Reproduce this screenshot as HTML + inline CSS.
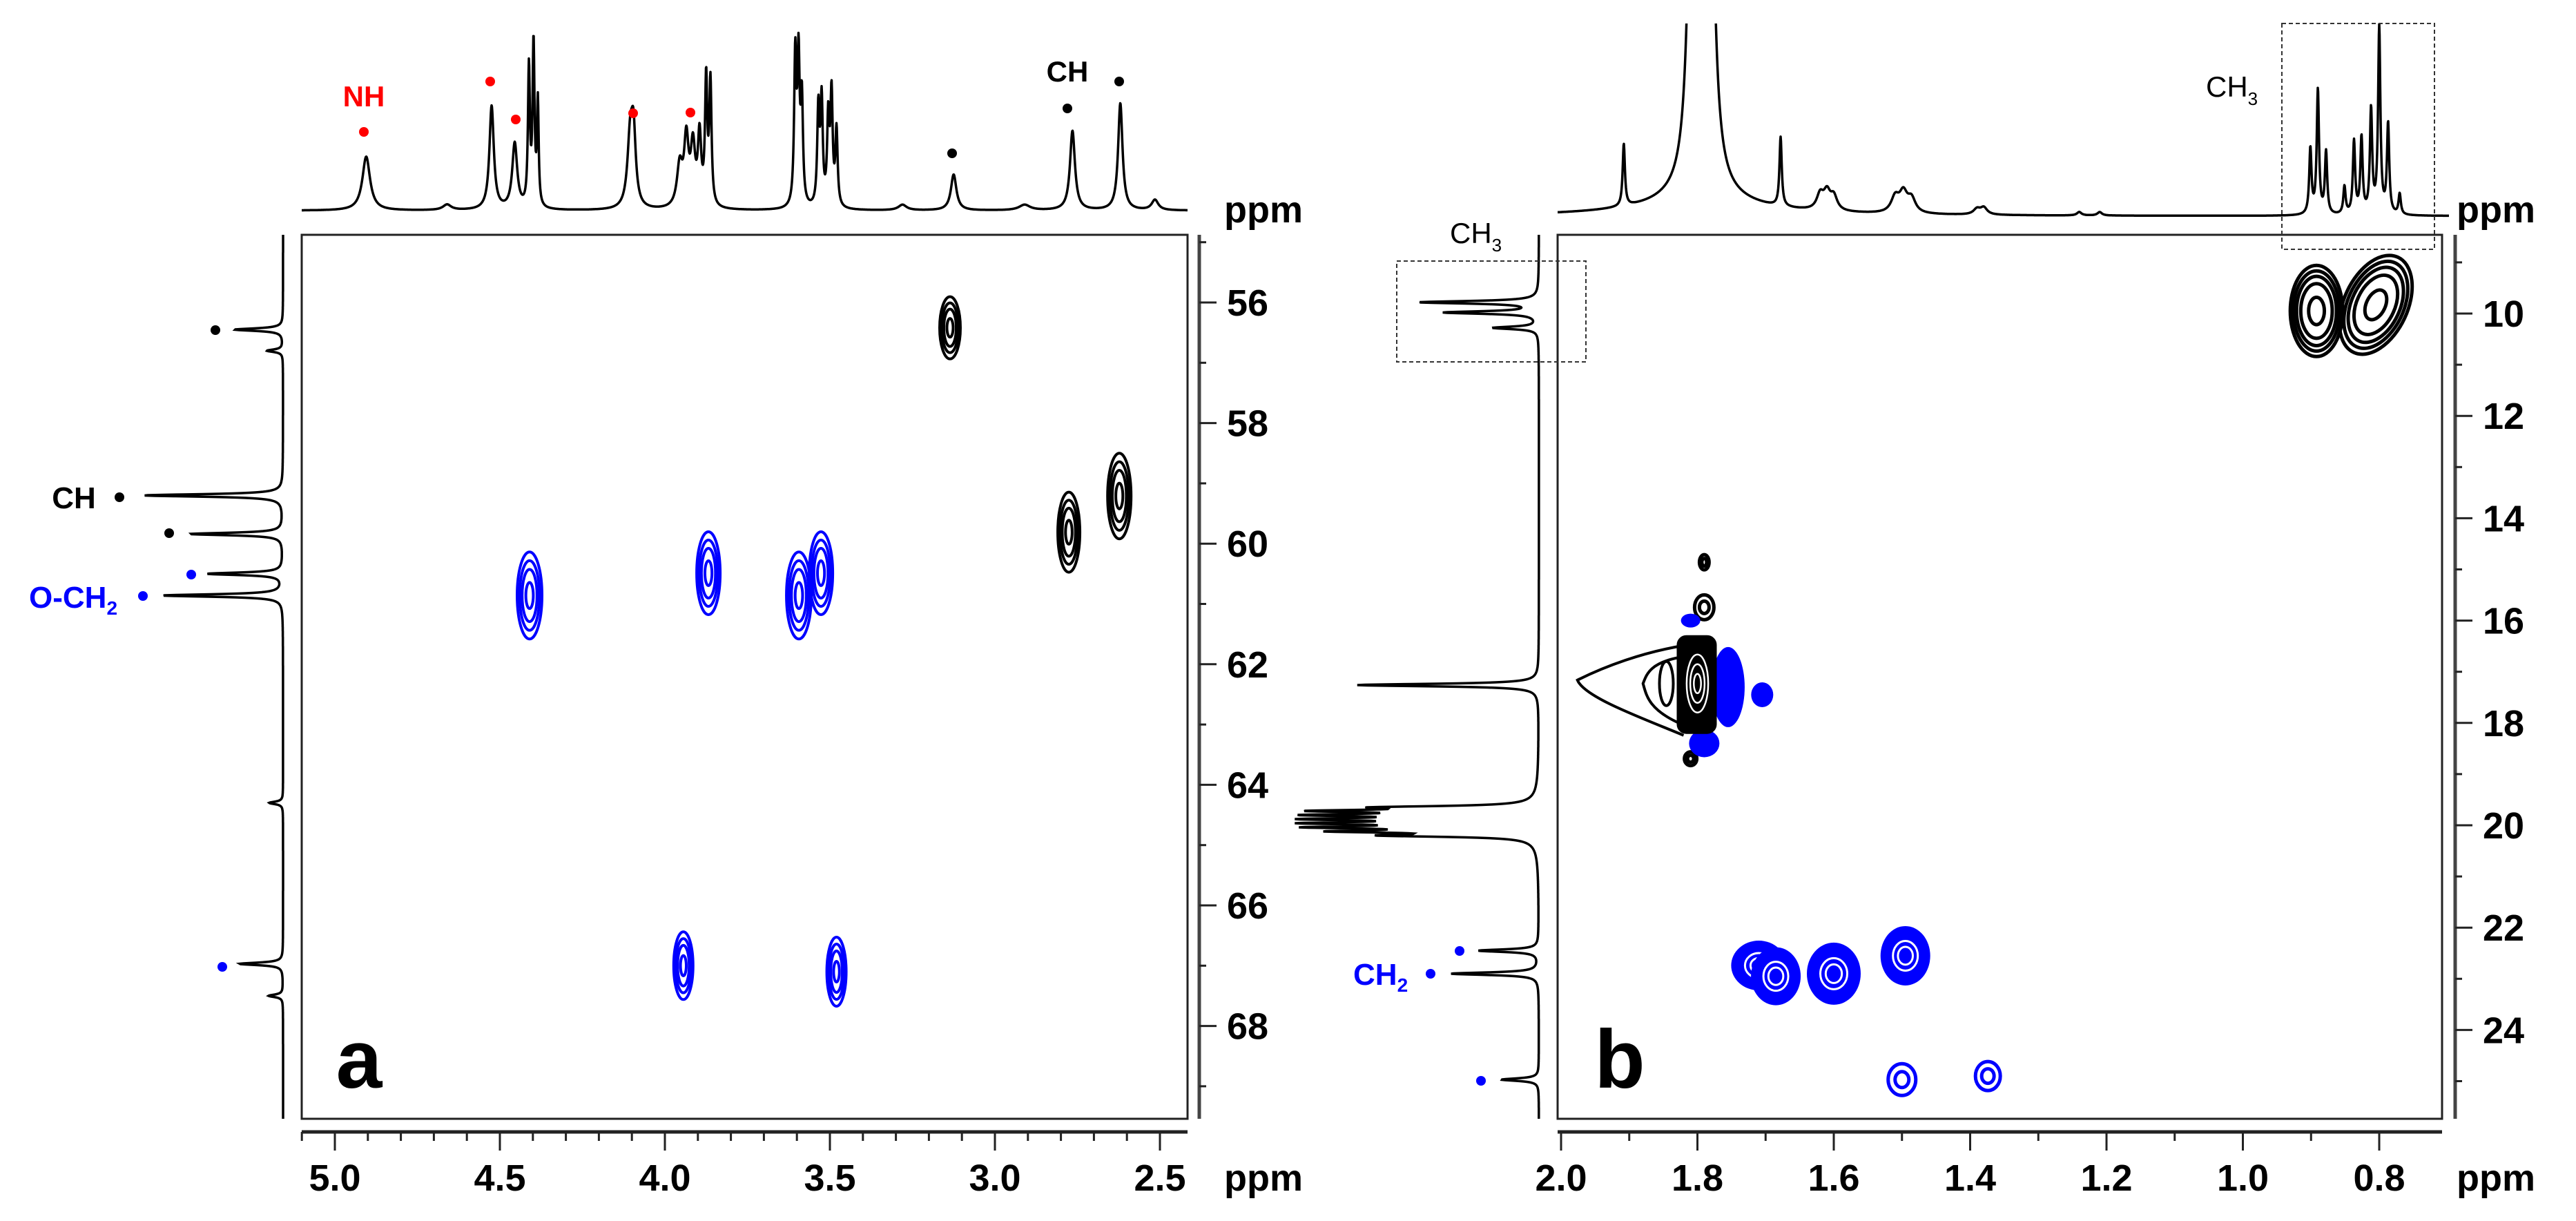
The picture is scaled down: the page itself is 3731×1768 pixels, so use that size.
<!DOCTYPE html>
<html><head><meta charset="utf-8"><style>
html,body{margin:0;padding:0;background:#fff;}
svg{display:block;font-family:"Liberation Sans",Arial,sans-serif;}
</style></head><body>
<svg id="fig" width="3731" height="1768" viewBox="0 0 3731 1768" xmlns="http://www.w3.org/2000/svg">
<rect width="3731" height="1768" fill="#fff"/>
<defs>
<clipPath id="clipTopB"><rect x="2240" y="34" width="1320" height="300"/></clipPath>
</defs>
<g id="layer"></g>
</svg>
<script>
// ===== Panel a data =====
const aTopPeakPpm = [4.905,4.66,4.525,4.455,4.412,4.398,4.385,4.105,4.095,3.955,3.935,3.915,3.895,3.875,3.862,3.605,3.595,3.585,3.535,3.525,3.505,3.495,3.48,3.28,3.125,2.91,2.765,2.62,2.515];
const aTopPeakHeight = [78,8,150,95,200,235,150,100,95,60,95,85,100,180,178,215,205,150,140,150,125,160,110,8,52,8,115,155,15];
const aTopPeakWidth = [0.014,0.015,0.008,0.009,0.0035,0.0035,0.003,0.01,0.008,0.01,0.008,0.008,0.006,0.004,0.004,0.004,0.004,0.004,0.004,0.004,0.004,0.004,0.004,0.015,0.01,0.02,0.009,0.008,0.012];
const aSidePeakPpm = [56.45,56.8,59.2,59.84,60.5,60.86,64.3,66.97,67.5];
const aSidePeakHeight = [70,23,201,134,109,174,20,63,21];
const aContourH = [3.136,2.776,2.623,4.41,3.868,3.594,3.527,3.944,3.48];
const aContourC = [56.42,59.81,59.21,60.86,60.49,60.86,60.49,67.0,67.1];
const aContourRx = [15,16,17,18,17,18,17,14,14];
const aContourRy = [45,58,62,63,60,63,60,49,50];
const aContourColor = ["#000","#000","#000","#0000ff","#0000ff","#0000ff","#0000ff","#0000ff","#0000ff"];
const aXTicks = ["5.0","4.5","4.0","3.5","3.0","2.5"];
const aYTicks = ["56","58","60","62","64","66","68"];

// ===== Panel b data =====
const bTopPeakPpm = [1.795,1.806,1.783,1.908,1.678,1.62,1.61,1.60,1.51,1.498,1.486,1.39,1.38,1.24,1.21,0.901,0.89,0.878,0.851,0.837,0.826,0.812,0.80,0.787,0.77];
const bTopPeakHeight = [22,700,700,90,100,22,25,20,22,28,20,8,10,5,5,95,180,90,40,105,110,150,270,130,30];
const bTopPeakWidth = [0.1,0.007,0.007,0.002,0.002,0.006,0.006,0.006,0.007,0.007,0.007,0.006,0.006,0.004,0.004,0.002,0.002,0.002,0.002,0.002,0.002,0.002,0.002,0.002,0.002];
const bSidePeakPpm = [9.78,9.98,10.28,17.26,19.65,19.72,19.8,19.88,19.96,20.04,20.12,20.2,22.45,22.9,24.97];
const bSidePeakHeight = [171,135,65,263,190,263,263,263,263,263,240,190,87,127,54];
const bRingH = [0.892,0.805,1.79,1.79,1.81,1.50,1.374];
const bRingC = [9.95,9.83,14.86,15.74,18.7,24.97,24.9];
const bRingRx = [38,46,7,14,9,20,18];
const bRingRy = [66,76,11,18,10,23,21];
const bBlobH = [1.71,1.685,1.60,1.495,1.755,1.705,1.81,1.79];
const bBlobC = [22.74,22.95,22.9,22.55,17.3,17.45,16.0,18.4];
const bBlobRx = [40,36,39,36,24,16,14,22];
const bBlobRy = [36,42,45,43,58,18,10,20];
const bCluster = {h:1.80, c:17.23, tail:1.976};
const bXTicks = ["2.0","1.8","1.6","1.4","1.2","1.0","0.8"];
const bYTicks = ["10","12","14","16","18","20","22","24"];

// ===== axis functions =====
const xA = p => 485 + (5.0 - p) * 478;
const yA = c => 438 + (c - 56) * 87.3;
const xB = p => 2261 + (2.0 - p) * 987.5;
const yB = c => 454 + (c - 10) * 74.1;
const A = {L:437, R:1720, T:340, B:1620};
const Bx = {L:2256, R:3537, T:340, B:1620};

const NS = "http://www.w3.org/2000/svg";
const layer = document.getElementById('layer');
function mk(tag, attrs, parent){ const e=document.createElementNS(NS,tag); for(const k in attrs) e.setAttribute(k,attrs[k]); (parent||layer).appendChild(e); return e; }
function txt(s, x, y, size, fill, anchor, weight){ const t=mk('text',{x:x,y:y,'font-size':size,fill:fill||'#000','text-anchor':anchor||'middle','font-weight':weight||'bold'}); t.textContent=s; return t; }
function lor(p, ps, hs, ws){ let s=0; for(let i=0;i<ps.length;i++){ const d=(p-ps[i])/ws[i]; s+=hs[i]/(1+d*d);} return s; }

let e;
e = mk('rect',{x:A.L,y:A.T,width:A.R-A.L,height:A.B-A.T,fill:'none',stroke:'#222','stroke-width':3});
 
e = mk('rect',{x:Bx.L,y:Bx.T,width:Bx.R-Bx.L,height:Bx.B-Bx.T,fill:'none',stroke:'#222','stroke-width':3});
 

function topSpectrum(xf, L, R, base, ps, hs, ws, name, clip){
  let d='';
  const x2p = (xf===xA) ? (X=>5.0-(X-485)/478) : (X=>2.0-(X-2261)/987.5);
  for(let X=L; X<=R; X+=0.5){ const p=x2p(X); const y=base-lor(p,ps,hs,ws); d+=(d?'L':'M')+X.toFixed(1)+','+y.toFixed(1); }
  const g = mk('path',{d:d,fill:'none',stroke:'#000','stroke-width':3.5,'stroke-linejoin':'round'});
  if(clip) g.setAttribute('clip-path','url(#'+clip+')');
   
}
topSpectrum(xA, A.L, A.R, 305, aTopPeakPpm, aTopPeakHeight, aTopPeakWidth, 'proton-spectrum-a', null);
topSpectrum(xB, Bx.L, Bx.R+10, 313, bTopPeakPpm, bTopPeakHeight, bTopPeakWidth, 'proton-spectrum-b', 'clipTopB');

function sideSpectrum(yf, T, Bt, base, ps, hs, name){
  const y2c = (yf===yA) ? (Y=>56+(Y-438)/87.3) : (Y=>10+(Y-454)/74.1);
  const ws = ps.map(()=> (yf===yA)?0.025:0.03);
  let d='';
  for(let Y=T; Y<=Bt; Y+=0.5){ const c=y2c(Y); const x=base-lor(c,ps,hs,ws); d+=(d?'L':'M')+x.toFixed(1)+','+Y.toFixed(1); }
  const g = mk('path',{d:d,fill:'none',stroke:'#000','stroke-width':3.5});
   
}
sideSpectrum(yA, A.T, A.B, 410, aSidePeakPpm, aSidePeakHeight, 'carbon-projection-a');
sideSpectrum(yB, Bx.T, Bx.B, 2229, bSidePeakPpm, bSidePeakHeight, 'carbon-projection-b');

for(let i=0;i<aContourH.length;i++){
  const g = mk('g',{});
   
  const cx=xA(aContourH[i]), cy=yA(aContourC[i]);
  [1,0.8,0.6,0.3].forEach(f=>{ mk('ellipse',{cx:cx,cy:cy,rx:aContourRx[i]*f,ry:aContourRy[i]*f,fill:'none',stroke:aContourColor[i],'stroke-width':4},g); });
}

for(let i=0;i<bRingH.length;i++){
  const g = mk('g',{});
   
  const cx=xB(bRingH[i]), cy=yB(bRingC[i]);
  const col = i>=5 ? '#0000ff' : '#000';
  const fs = (i<2)?[1,0.88,0.76,0.6,0.3]:[1,0.5];
  fs.forEach(f=>{ mk('ellipse',{cx:cx,cy:cy,rx:bRingRx[i]*f,ry:bRingRy[i]*f,fill:'none',stroke:col,'stroke-width':5,transform:(i===1?'rotate(25 '+cx+' '+cy+')':'')},g); });
}
// 1.8 cluster (tail first)
(function(){
  const g = mk('g',{});
   
  const cx=xB(bCluster.h), cy=yB(bCluster.c), tx=xB(bCluster.tail);
  mk('path',{d:`M${cx-20},${cy-55} C${cx-80},${cy-45} ${tx+40},${cy-25} ${tx},${cy-5} C${tx+10},${cy+20} ${cx-80},${cy+50} ${cx-20},${cy+75}`,fill:'none',stroke:'#000','stroke-width':4},g);
  mk('path',{d:`M${cx-25},${cy-38} C${cx-70},${cy-30} ${tx+100},${cy-12} ${tx+95},${cy} C${tx+100},${cy+18} ${cx-70},${cy+38} ${cx-25},${cy+58}`,fill:'none',stroke:'#000','stroke-width':4},g);
  mk('ellipse',{cx:cx-45,cy:cy,rx:10,ry:32,fill:'none',stroke:'#000','stroke-width':4},g);
})();
for(let i=0;i<bBlobH.length;i++){
  const g = mk('g',{});
   
  const cx=xB(bBlobH[i]), cy=yB(bBlobC[i]);
  mk('ellipse',{cx:cx,cy:cy,rx:bBlobRx[i],ry:bBlobRy[i],fill:'#0000ff'},g);
  if(bBlobRx[i]>30){ [0.5,0.3].forEach(f=>mk('ellipse',{cx:cx,cy:cy,rx:bBlobRx[i]*f,ry:bBlobRy[i]*f,fill:'none',stroke:'#fff','stroke-width':3},g)); }
}
(function(){
  const g = mk('g',{});
   
  const cx=xB(bCluster.h), cy=yB(bCluster.c);
  mk('rect',{x:cx-30,y:cy-70,width:58,height:143,rx:14,fill:'#000'},g);
  [0.6,0.4,0.2].forEach(f=>mk('ellipse',{cx:cx,cy:cy,rx:26*f,ry:70*f,fill:'none',stroke:'#fff','stroke-width':2.5},g));
})();

e = mk('rect',{x:3305,y:34,width:221,height:327,fill:'none',stroke:'#333','stroke-width':2,'stroke-dasharray':'6,4'});
 
e = mk('rect',{x:2023,y:378,width:274,height:146,fill:'none',stroke:'#333','stroke-width':2,'stroke-dasharray':'6,4'});
 

function xAxis(xf, L, R, hi, lo, step, labels, name){
  const g = mk('g',{});
   
  mk('line',{x1:L,y1:1639,x2:R,y2:1639,stroke:'#222','stroke-width':5},g);
  const n=Math.round((hi-lo)/step);
  for(let k=0;k<=n;k++){ const p=hi-k*step; const X=xf(p); if(X<L-1||X>R+1) continue;
    const major = labels.indexOf(p.toFixed(1))>=0;
    mk('line',{x1:X,y1:1639,x2:X,y2:major?1666:1652,stroke:'#222','stroke-width':3},g); }
  labels.forEach(s=>{ const t=txt(s, xf(parseFloat(s)), 1724, 54, '#000','middle','bold'); g.appendChild(t); });
}
xAxis(xA, A.L, A.R, 5.1, 2.4, 0.1, aXTicks, 'x-axis-a');
xAxis(xB, Bx.L, Bx.R, 2.0, 0.7, 0.1, bXTicks, 'x-axis-b');
txt('ppm', 1830, 1724, 54);
txt('ppm', 3615, 1724, 54);

function yAxis(yf, X, lo, hi, labels, name){
  const g = mk('g',{});
   
  mk('line',{x1:X,y1:340,x2:X,y2:1620,stroke:'#444','stroke-width':5},g);
  for(let c=lo;c<=hi;c++){ const Y=yf(c); if(Y<340||Y>1620) continue; const major=labels.indexOf(String(c))>=0;
    mk('line',{x1:X,y1:Y,x2:X+(major?25:10),y2:Y,stroke:'#222','stroke-width':3},g); }
  labels.forEach(s=>{ const t=txt(s, X+40, yf(parseFloat(s))+19, 54,'#000','start','bold'); g.appendChild(t); });
}
yAxis(yA, 1737, 55, 69, aYTicks, 'y-axis-a');
yAxis(yB, 3556, 9, 25, bYTicks, 'y-axis-b');
txt('ppm', 1830, 322, 54);
txt('ppm', 3615, 322, 54);

function dot(x,y,col,name){ const c=mk('circle',{cx:x,cy:y,r:7,fill:col});   }
txt('NH', 527, 154, 42, '#ff0000');
dot(527,191,'#ff0000','dot-nh'); dot(710,118,'#ff0000','dot-4-53'); dot(747,173,'#ff0000','dot-4-45');
dot(917,164,'#ff0000','dot-4-10'); dot(1000,163,'#ff0000','dot-3-93');
dot(1379,222,'#000','dot-3-12'); dot(1546,157,'#000','dot-2-77'); dot(1621,118,'#000','dot-2-61');
txt('CH', 1546, 118, 42, '#000');
dot(312,478,'#000','dot-c-56'); dot(173,720,'#000','dot-c-59'); dot(245,772,'#000','dot-c-60');
dot(277,832,'#0000ff','dot-c-60-5'); dot(207,863,'#0000ff','dot-c-61'); dot(322,1400,'#0000ff','dot-c-67');
txt('CH', 107, 736, 44, '#000');
e = mk('text',{x:42,y:880,'font-size':44,fill:'#0000ff','font-weight':'bold'}); e.innerHTML='O-CH<tspan font-size="28" dy="10">2</tspan>';
 
e = mk('text',{x:3195,y:140,'font-size':42,fill:'#000'}); e.innerHTML='CH<tspan font-size="26" dy="12">3</tspan>';
 
e = mk('text',{x:2100,y:352,'font-size':42,fill:'#000'}); e.innerHTML='CH<tspan font-size="26" dy="12">3</tspan>';
 
e = mk('text',{x:1960,y:1426,'font-size':44,fill:'#0000ff','font-weight':'bold'}); e.innerHTML='CH<tspan font-size="28" dy="10">2</tspan>';
 
dot(2114,1377,'#0000ff','dot-c-22-4'); dot(2072,1410,'#0000ff','dot-c-22-9'); dot(2145,1565,'#0000ff','dot-c-25');
txt('a', 520, 1575, 120, '#000','middle','bold');
txt('b', 2346, 1575, 120, '#000','middle','bold');
</script>
</body></html>
